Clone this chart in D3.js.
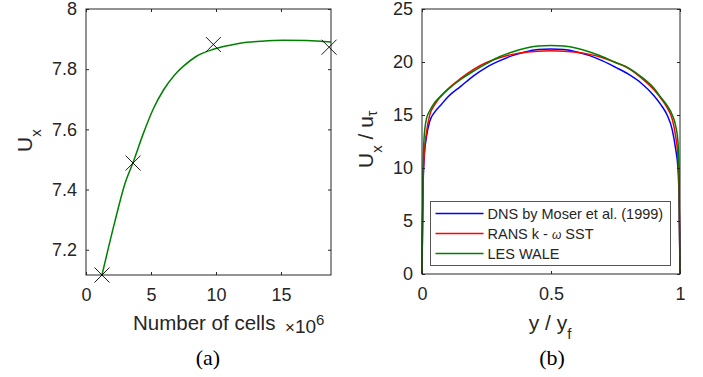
<!DOCTYPE html>
<html>
<head>
<meta charset="utf-8">
<script src="https://cdn.jsdelivr.net/npm/d3@7"></script>
<style>
  body { margin: 0; background: #fff; }
  svg { display: block; }
  text { font-family: Arial, "Liberation Sans", sans-serif; fill: #262626; }
</style>
</head>
<body>
<svg width="703" height="377"></svg>
<script>
// panel (a): mesh study
var cells = [1.23, 3.62, 9.8, 18.7];
var ux = [7.116, 7.488, 7.882, 7.873];
// fitted curve
var fitCells = [1.23, 2.2, 3.0, 3.62, 4.4, 5.2, 5.95, 6.8, 7.5, 8.5, 9.8, 11.0, 11.85, 13.5, 15.2, 17.0, 18.85];
var fitUx = [7.116, 7.29, 7.42, 7.49, 7.585, 7.67, 7.73, 7.78, 7.81, 7.843, 7.866, 7.879, 7.886, 7.893, 7.896, 7.895, 7.89];
var xTicksA = [0, 5, 10, 15];
var yTicksA = [7.2, 7.4, 7.6, 7.8, 8];

// panel (b): velocity profiles
var yPos = [0, 0.002, 0.004, 0.008, 0.017, 0.03, 0.05, 0.075, 0.1, 0.15, 0.2, 0.25, 0.3, 0.35, 0.4, 0.45, 0.5,
            0.55, 0.6, 0.65, 0.7, 0.75, 0.8, 0.85, 0.9, 0.925, 0.95, 0.97, 0.983, 0.992, 0.996, 0.998, 1];
var dns  = [0, 4.5, 8.0, 10.8, 12.9, 14.4, 15.3, 16.0, 16.7, 17.7, 18.7, 19.5, 20.1, 20.6, 20.95, 21.17, 21.23,
            21.17, 20.95, 20.6, 20.1, 19.5, 18.85, 18.0, 16.8, 16.0, 15.0, 13.6, 11.8, 10.0, 7.5, 4.5, 0];
var rans = [0, 4.5, 8.5, 11.0, 13.3, 15.0, 16.0, 16.8, 17.45, 18.45, 19.3, 19.95, 20.4, 20.72, 20.92, 21.02, 21.05,
            21.02, 20.92, 20.72, 20.4, 19.95, 19.4, 18.5, 17.35, 16.6, 15.7, 14.6, 13.0, 11.0, 8.5, 4.5, 0];
var les  = [0, 5.0, 10.0, 12.8, 14.6, 15.4, 16.2, 16.85, 17.4, 18.35, 19.15, 19.85, 20.5, 20.95, 21.3, 21.5, 21.55,
            21.5, 21.3, 20.95, 20.5, 19.95, 19.45, 18.6, 17.5, 16.7, 15.9, 15.0, 14.0, 12.5, 10.0, 5.0, 0];
var seriesNames = ["DNS by Moser et al. (1999)", "RANS k - ", "LES WALE"];
var seriesColors = ["#0000ff", "#ff0000", "#008000"];
var xTicksB = [0, 0.5, 1];
var yTicksB = [0, 5, 10, 15, 20, 25];

var svg = d3.select("svg");
var axisColor = "#262626";
var plain = function(d) { return d; };

function frame(g, x, y, xt, yt) {
    var w = x.range()[1], h = y.range()[0];
    g.append("g").attr("transform", "translate(0," + h + ")")
        .call(d3.axisBottom(x).tickValues(xt).tickFormat(plain).tickSize(-3).tickSizeOuter(0).tickPadding(13));
    g.append("g")
        .call(d3.axisLeft(y).tickValues(yt).tickFormat(plain).tickSize(-3).tickSizeOuter(0).tickPadding(9));
    g.append("g")
        .call(d3.axisTop(x).tickValues(xt).tickFormat("").tickSize(-3).tickSizeOuter(0));
    g.append("g").attr("transform", "translate(" + w + ",0)")
        .call(d3.axisRight(y).tickValues(yt).tickFormat("").tickSize(-3).tickSizeOuter(0));
    g.selectAll(".domain").remove();
    g.selectAll(".tick line").attr("stroke", axisColor);
    g.selectAll(".tick text").attr("font-size", 18).attr("fill", axisColor);
    g.append("rect").attr("width", w).attr("height", h)
        .attr("fill", "none").attr("stroke", axisColor).attr("stroke-width", 1);
}

// ---- panel (a)
var gA = svg.append("g").attr("transform", "translate(86,9)");
var xA = d3.scaleLinear().domain([0, 18.85]).range([0, 245]);
var yA = d3.scaleLinear().domain([7.116, 8]).range([266, 0]);

gA.append("path")
    .datum(fitCells.map(function(d, i) { return [d, fitUx[i]]; }))
    .attr("fill", "none").attr("stroke", "#008000").attr("stroke-width", 1.5)
    .attr("d", d3.line().x(function(d) { return xA(d[0]); }).y(function(d) { return yA(d[1]); })
        .curve(d3.curveMonotoneX));

frame(gA, xA, yA, xTicksA, yTicksA);

gA.selectAll(".mark")
    .data(cells.map(function(d, i) { return [d, ux[i]]; }))
    .enter().append("path")
    .attr("transform", function(d) { return "translate(" + xA(d[0]) + "," + yA(d[1]) + ")"; })
    .attr("d", "M-7.5,-7.5L7.5,7.5M-7.5,7.5L7.5,-7.5")
    .attr("stroke", "#000").attr("stroke-width", 0.9).attr("fill", "none");

// labels (a)
var ylA = svg.append("text").attr("transform", "translate(32,152) rotate(-90)").attr("font-size", 21);
ylA.append("tspan").text("U");
ylA.append("tspan").attr("font-size", 15).attr("dy", 9).text("x");

svg.append("text").attr("x", 133).attr("y", 330).attr("font-size", 20.5).text("Number of cells");
var expA = svg.append("text").attr("x", 285).attr("y", 333).attr("font-size", 19);
expA.append("tspan").attr("font-size", 17).text("\u00d7");
expA.append("tspan").text("10");
expA.append("tspan").attr("font-size", 15).attr("dy", -8).text("6");

svg.append("text").attr("x", 208).attr("y", 365).attr("text-anchor", "middle")
    .attr("font-size", 22).style("font-family", "'Liberation Serif', 'Times New Roman', serif").style("fill", "#000")
    .text("(a)");

// ---- panel (b)
var gB = svg.append("g").attr("transform", "translate(422,9)");
var xB = d3.scaleLinear().domain([0, 1]).range([0, 258]);
var yB = d3.scaleLinear().domain([0, 25]).range([265, 0]);

var profiles = [dns, rans, les];
var line = d3.line().x(function(d) { return xB(d[0]); }).y(function(d) { return yB(d[1]); })
    .curve(d3.curveMonotoneX);
profiles.forEach(function(s, k) {
    gB.append("path")
        .datum(yPos.map(function(d, i) { return [d, s[i]]; }))
        .attr("fill", "none").attr("stroke", seriesColors[k]).attr("stroke-width", 1.5)
        .attr("d", line);
});

frame(gB, xB, yB, xTicksB, yTicksB);

// legend
var leg = gB.append("g").attr("transform", "translate(8.5,192.5)");
leg.append("rect").attr("width", 240).attr("height", 64)
    .attr("fill", "#fff").attr("stroke", "#555").attr("stroke-width", 1);
seriesNames.forEach(function(name, k) {
    var yy = 12 + k * 20;
    leg.append("line").attr("x1", 5).attr("x2", 53).attr("y1", yy).attr("y2", yy)
        .attr("stroke", seriesColors[k]).attr("stroke-width", 1.5);
    var t = leg.append("text").attr("x", 57).attr("y", yy).attr("dy", "0.35em").attr("font-size", 14.5).text(name);
    if (k === 1) {
        t.append("tspan").attr("font-size", 12).style("font-style", "italic").text("\u03c9");
        t.append("tspan").text(" SST");
    }
});

// labels (b)
var ylB = svg.append("text").attr("transform", "translate(373,168) rotate(-90)").attr("font-size", 21);
ylB.append("tspan").text("U");
ylB.append("tspan").attr("font-size", 15).attr("dy", 9).text("x");
ylB.append("tspan").attr("dy", -9).text(" / u");
ylB.append("tspan").attr("font-size", 14).attr("dy", 4).text("\u03c4");

var xlB = svg.append("text").attr("x", 550).attr("y", 330).attr("text-anchor", "middle").attr("font-size", 21);
xlB.append("tspan").text("y / y");
xlB.append("tspan").attr("font-size", 15).attr("dy", 9).text("f");

svg.append("text").attr("x", 552).attr("y", 365).attr("text-anchor", "middle")
    .attr("font-size", 22).style("font-family", "'Liberation Serif', 'Times New Roman', serif").style("fill", "#000")
    .text("(b)");
</script>
</body>
</html>
